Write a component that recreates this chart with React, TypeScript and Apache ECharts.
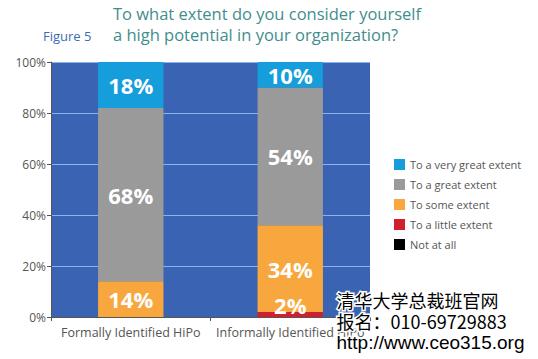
import React, { useEffect, useRef } from "react";
import * as echarts from "echarts";

const categories = ["Formally Identified HiPo", "Informally Identified HiPo"];
const seriesNames = ["Not at all", "To a little extent", "To some extent", "To a great extent", "To a very great extent"];
const notAtAll = [0, 0];
const littleExtent = [0, 2];
const someExtent = [14, 34];
const greatExtent = [68, 54];
const veryGreatExtent = [18, 10];
const seriesColors = ["#000000", "#d0202e", "#f8a73e", "#9a9a9a", "#159ddc"];
const legendOrder = ["To a very great extent", "To a great extent", "To some extent", "To a little extent", "Not at all"];
const yTicks = [0, 20, 40, 60, 80, 100];

export default function App() {
  const ref = useRef<HTMLDivElement>(null);
  useEffect(() => {
    if (!ref.current) return;
    const chart = echarts.init(ref.current, null, { renderer: "svg" });
    const values = [notAtAll, littleExtent, someExtent, greatExtent, veryGreatExtent];
    const series = seriesNames.map((name, i) => ({
      name,
      type: "bar",
      stack: "total",
      barWidth: "41%",
      data: values[i],
      itemStyle: { color: seriesColors[i] },
      label: {
        show: true,
        position: i === 1 ? "insideBottom" : "inside",
        offset: i === 1 ? [0, 4] : [0, 0],
        color: "#ffffff",
        fontSize: 22,
        fontWeight: "bold",
        fontFamily: "Open Sans",
        formatter: (p: any) => (p.value > 0 ? p.value + "%" : ""),
      },
    }));
    chart.setOption({
      animation: false,
      backgroundColor: "#ffffff",
      grid: {
        left: 51,
        right: 168,
        top: 62,
        bottom: 42,
        show: true,
        backgroundColor: "#3b63b3",
        borderWidth: 0,
      },
      legend: {
        orient: "vertical",
        left: 389,
        top: 154,
        itemWidth: 11,
        itemHeight: 11,
        itemGap: 9,
        icon: "rect",
        data: legendOrder,
        textStyle: { color: "#555555", fontSize: 11, fontFamily: "Open Sans" },
      },
      xAxis: {
        type: "category",
        data: categories,
        axisLine: { lineStyle: { color: "#555555" } },
        axisTick: { show: true, alignWithLabel: false, length: 4, lineStyle: { color: "#555555" } },
        axisLabel: { color: "#555555", fontSize: 12.5, fontFamily: "Open Sans", margin: 9, interval: 0 },
      },
      yAxis: {
        type: "value",
        min: 0,
        max: 100,
        interval: 20,
        axisLine: { show: true, lineStyle: { color: "#555555" } },
        axisTick: { show: true, length: 4, lineStyle: { color: "#555555" } },
        axisLabel: {
          color: "#555555",
          fontSize: 12,
          fontFamily: "Open Sans",
          margin: 5,
          formatter: (v: number) => (yTicks.includes(v) ? v + "%" : ""),
        },
        splitLine: { show: true, lineStyle: { color: "#8db2ec", width: 1 } },
      },
      graphic: [
        {
          type: "text",
          left: 113,
          top: 5,
          style: { text: "To what extent do you consider yourself", fill: "#3f8e8c", fontSize: 16.5, fontFamily: "Open Sans" },
        },
        {
          type: "text",
          left: 113,
          top: 26,
          style: { text: "a high potential in your organization?", fill: "#3f8e8c", fontSize: 16.5, fontFamily: "Open Sans" },
        },
        {
          type: "text",
          left: 43,
          top: 29,
          style: { text: "Figure 5", fill: "#3a6cb5", fontSize: 13, fontFamily: "Open Sans" },
        },
        {
          type: "text",
          left: 335,
          top: 289,
          z: 100,
          style: { text: "清华大学总裁班官网", fill: "#000000", stroke: "#ffffff", lineWidth: 3, fontSize: 18, fontFamily: "Noto Sans CJK SC" },
        },
        {
          type: "text",
          left: 335,
          top: 310,
          z: 100,
          style: { text: "报名：010-69729883", fill: "#000000", stroke: "#ffffff", lineWidth: 3, fontSize: 18, fontFamily: "Noto Sans CJK SC" },
        },
        {
          type: "text",
          left: 335,
          top: 331,
          z: 100,
          style: { text: "http://www.ceo315.org", fill: "#000000", stroke: "#ffffff", lineWidth: 3, fontSize: 19, fontFamily: "Liberation Sans" },
        },
      ],
      series,
    });
    return () => chart.dispose();
  }, []);
  return <div ref={ref} style={{ position: "fixed", left: 0, top: 0, width: 538, height: 359 }} />;
}
